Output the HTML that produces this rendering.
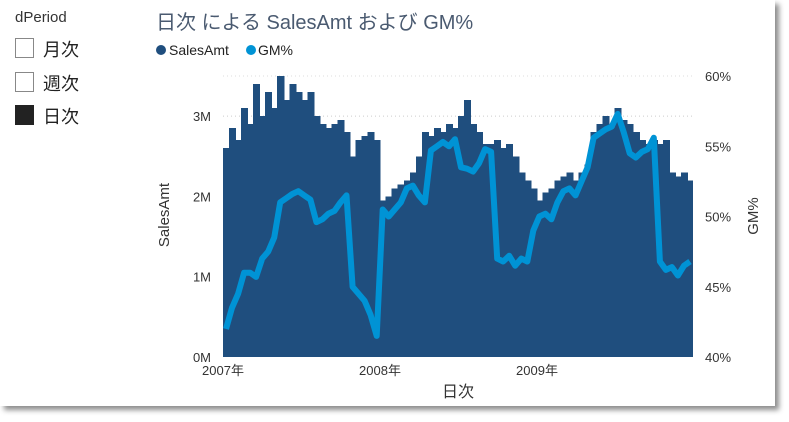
<!DOCTYPE html>
<html><head><meta charset="utf-8"><style>
body{margin:0;background:#fff;width:789px;height:422px;overflow:hidden;font-family:"Liberation Sans","Noto Sans CJK JP",sans-serif;}
#frame{position:absolute;left:0;top:0;width:775px;height:406px;background:#fff;box-shadow:4px 4px 5px rgba(0,0,0,0.45);}
.t{position:absolute;white-space:nowrap;}
.box{position:absolute;left:15px;width:17px;height:18px;border:1px solid #888;background:#fff;}
</style></head><body>
<div id="frame">
<div class="t" style="left:15px;top:9px;font-size:15px;color:#333">dPeriod</div>
<div class="box" style="top:38px"></div>
<div class="t" style="left:43px;top:36px;font-size:18px;color:#222">月次</div>
<div class="box" style="top:72px"></div>
<div class="t" style="left:43px;top:70px;font-size:18px;color:#222">週次</div>
<div class="box" style="top:105px;background:#222;border-color:#222"></div>
<div class="t" style="left:43px;top:103px;font-size:18px;color:#222">日次</div>
<div class="t" style="left:156px;top:6px;font-size:20px;color:#4a5a70">日次 による SalesAmt および GM%</div>
<svg id="chart" width="789" height="422" style="position:absolute;left:0;top:0"></svg>
</div>
<script>
const years=["2007年","2008年","2009年"];
const salesTicks=[0,1,2,3];
const salesTickLabels=["0M","1M","2M","3M"];
const gmTicks=[40,45,50,55,60];
const sales=[2.6,2.85,2.7,3.1,2.9,3.4,3.0,3.3,3.1,3.5,3.2,3.4,3.3,3.2,3.3,3.0,2.9,2.85,2.9,2.95,2.8,2.5,2.7,2.75,2.8,2.7,
1.95,2.0,2.1,2.15,2.2,2.3,2.5,2.8,2.75,2.85,2.8,2.9,2.85,3.0,3.2,2.9,2.8,2.65,2.65,2.7,2.6,2.65,2.5,2.3,2.2,2.1,
1.95,2.05,2.1,2.2,2.25,2.3,2.2,2.3,2.4,2.8,2.9,3.0,2.85,3.1,2.95,2.9,2.8,2.7,2.65,2.7,2.65,2.7,2.3,2.25,2.3,2.2];
const gm=[42,43.5,44.5,46,46,45.7,47,47.5,48.5,51,51.3,51.6,51.8,51.5,51.2,49.6,49.8,50.2,50.4,51,51.5,45,44.5,44,43,41.5,
50.5,50,50.5,51,52,52.2,51.5,51,54.7,55,55.3,55,55.5,53.5,53.4,53.2,53.8,54.8,54.6,47,46.8,47.2,46.5,47,46.8,49,
50,50.2,49.8,51,51.8,52,51.5,52.5,53.5,55.6,55.9,56.2,56.4,57.3,56,54.5,54.2,54.6,54.8,55.6,46.8,46.2,46.4,45.8,46.5,46.8];
const NS="http://www.w3.org/2000/svg",svg=document.getElementById('chart');
const X0=223,X1=693,Y0=357;
const xs=i=>X0+(X1-X0)*i/sales.length;
const ys=v=>Y0-v*80.3;
const yg=v=>Y0-(v-40)*14.05;
function mk(t,a,txt){const e=document.createElementNS(NS,t);for(const k in a)e.setAttribute(k,a[k]);if(txt!==undefined)e.textContent=txt;svg.appendChild(e);return e;}
let g=mk('line',{x1:X0,x2:X1,y1:ys(3),y2:ys(3),stroke:'#ccc','stroke-dasharray':'1,3'});


let g2=mk('line',{x1:X0,x2:X1,y1:yg(60),y2:yg(60),stroke:'#ddd','stroke-dasharray':'1,3'});


const w=(X1-X0)/sales.length;
sales.forEach((v,i)=>{
 const last=i===sales.length-1;
 const r=mk('rect',{x:xs(i),y:ys(v),width:last?w:w+1,height:Y0-ys(v),fill:'#1f4e7e','shape-rendering':'crispEdges'});
 
 
});
let pts=gm.map((v,i)=>(xs(i)+w/2).toFixed(1)+','+yg(v).toFixed(1)).join(' ');
const pl=mk('polyline',{points:pts,fill:'none',stroke:'#0093d5','stroke-width':6,'stroke-linejoin':'round'});


salesTicks.forEach((v,i)=>{
 const t=mk('text',{x:211,y:ys(v)+5,'text-anchor':'end','font-size':13,fill:'#333'},salesTickLabels[i]);
 
 
});
gmTicks.forEach(v=>{
 const t=mk('text',{x:705,y:yg(v)+5,'font-size':13,fill:'#333'},v+'%');
 
 
});
years.forEach((y,i)=>{
 const t=mk('text',{x:X0+i*157,y:375,'text-anchor':'middle','font-size':13,fill:'#333'},y);
 
 
});
let a=mk('text',{x:458,y:397,'text-anchor':'middle','font-size':16,fill:'#333'},'日次');


a=mk('text',{x:0,y:0,transform:'translate(169,215) rotate(-90)','text-anchor':'middle','font-size':15,fill:'#333'},'SalesAmt');


a=mk('text',{x:0,y:0,transform:'translate(758,216) rotate(-90)','text-anchor':'middle','font-size':15,fill:'#333'},'GM%');


a=mk('circle',{cx:161,cy:50,r:5,fill:'#1f4e7e'});


a=mk('text',{x:169,y:55,'font-size':14,fill:'#222'},'SalesAmt');


a=mk('circle',{cx:251,cy:50,r:5,fill:'#0093d5'});


a=mk('text',{x:258,y:55,'font-size':14,fill:'#222'},'GM%');


</script>
</body></html>
